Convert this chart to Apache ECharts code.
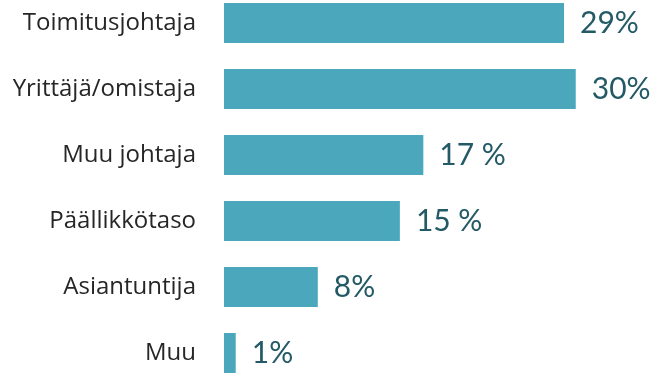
<!DOCTYPE html>
<html>
<head>
<meta charset="utf-8">
<script src="https://cdn.jsdelivr.net/npm/echarts@6/dist/echarts.min.js"></script>
<style>
  html, body { margin: 0; padding: 0; background: #fff; overflow: hidden; }
  #chart { width: 700px; height: 396px; margin-top: -10px; }
</style>
</head>
<body>
<div id="chart"></div>
<script>
// Job roles, top to bottom
const categories = ['Toimitusjohtaja', 'Yrittäjä/omistaja', 'Muu johtaja', 'Päällikkötaso', 'Asiantuntija', 'Muu'];
// Share of respondents (%)
const values = [29, 30, 17, 15, 8, 1];
// Value labels as printed next to each bar
const valueLabels = ['29%', '30%', '17 %', '15 %', '8%', '1%'];

const chart = echarts.init(document.getElementById('chart'), null, { renderer: 'canvas' });

chart.setOption({
  animation: false,
  grid: { left: 224, top: 0, width: 469, height: 396, containLabel: false },
  xAxis: {
    type: 'value', min: 0, max: 40,
    show: false
  },
  yAxis: {
    type: 'category',
    data: categories,
    inverse: true,
    axisLine: { show: false },
    axisTick: { show: false },
    axisLabel: {
      margin: 28,
      color: '#262626',
      fontFamily: 'Open Sans',
      fontSize: 24
    }
  },
  series: [{
    type: 'bar',
    data: values,
    barWidth: 40,
    itemStyle: { color: '#4ba8bc' },
    label: {
      show: true,
      position: 'right',
      distance: 16,
      color: '#235a66',
      fontFamily: 'Lato',
      fontSize: 30,
      formatter: p => valueLabels[p.dataIndex]
    }
  }]
});
</script>
</body>
</html>
